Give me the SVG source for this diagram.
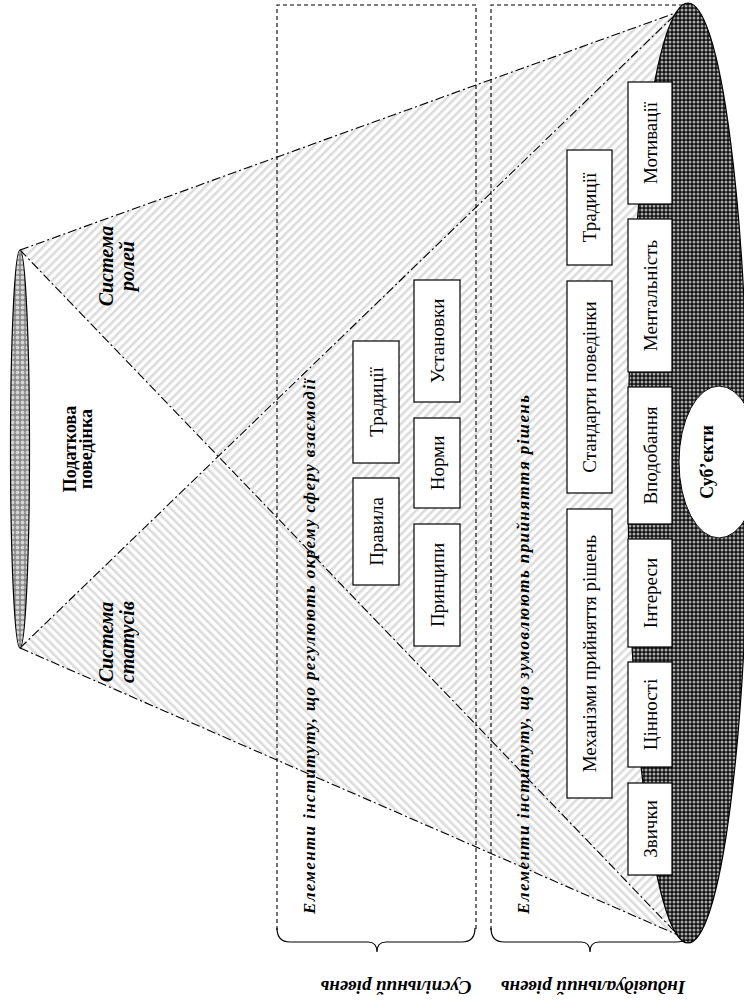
<svg xmlns="http://www.w3.org/2000/svg" width="744" height="1002" viewBox="0 0 744 1002">
<style>
.box{fill:#fff;stroke:#000;stroke-width:1.2}
.bt{font-family:"Liberation Serif","Times New Roman",serif;font-size:19px;text-anchor:middle;fill:#000}
.lab{font-family:"Liberation Serif","Times New Roman",serif;font-size:18px;font-weight:bold;font-style:italic;fill:#000}
.up{font-style:normal}
.big{font-size:20px}
.lvl{font-size:19px}
.ttl{font-size:17px}
.dd{fill:none;stroke:#000;stroke-width:1.1;stroke-dasharray:9 3 2 3}
.dash{fill:none;stroke:#000;stroke-width:1.1;stroke-dasharray:4 3}
.brace{fill:none;stroke:#000;stroke-width:1.2}
</style>
<defs>
<pattern id="hatchR" patternUnits="userSpaceOnUse" width="6" height="6" patternTransform="rotate(45)">
<rect width="6" height="6" fill="#fff"/>
<rect width="2.6" height="6" fill="#dcdcdc"/>
</pattern>
<pattern id="hatchS" patternUnits="userSpaceOnUse" width="6" height="6" patternTransform="rotate(-45)">
<rect width="6" height="6" fill="#fff"/>
<rect width="2.6" height="6" fill="#dcdcdc"/>
</pattern>
<pattern id="dots" patternUnits="userSpaceOnUse" width="4" height="4">
<rect width="4" height="4" fill="#111"/>
<circle cx="2" cy="2" r="1.5" fill="#a8a8a8"/>
</pattern>
<pattern id="dotsL" patternUnits="userSpaceOnUse" width="5" height="5">
<rect width="5" height="5" fill="#8a8a8a"/>
<circle cx="2.5" cy="2.5" r="1.9" fill="#d4d4d4"/>
</pattern>
</defs>

<g id="regions">
<polygon points="20,648 678,12 678,935" fill="url(#hatchS)"/>
<polygon points="20,250 678,12 678,935" fill="url(#hatchR)"/>
<polygon points="20,250 20,648 219,457" fill="#fff"/>
</g>

<g id="levels">
<path class="dash" d="M277,930 V5 H476 V930"/>
<path class="dash" d="M491,930 V5 H688"/>
<path class="brace" d="M277,928 Q277,942 290,942 H368 Q377,942 377,952 Q377,942 386,942 H462 Q475,942 475,928"/>
<path class="brace" d="M491,928 Q491,942 504,942 H581 Q590,942 590,952 Q590,942 599,942 H676 Q684,942 687,938"/>
</g>

<g id="subjects">
<ellipse cx="688" cy="473" rx="60" ry="470" fill="url(#dots)" stroke="#000" stroke-width="1.2"/>
<ellipse cx="719" cy="462" rx="40" ry="76" fill="#fff" stroke="#000" stroke-width="1"/>
<text class="lab up" text-anchor="middle" transform="translate(713,462) rotate(-90)">Суб’єкти</text>
</g>

<g id="connectors">
<line class="dd" x1="20" y1="250" x2="678" y2="12"/>
<line class="dd" x1="20" y1="250" x2="678" y2="935"/>
<line class="dd" x1="20" y1="648" x2="678" y2="12"/>
<line class="dd" x1="20" y1="648" x2="678" y2="935"/>
</g>

<g id="behaviour">
<ellipse cx="20" cy="449" rx="9.5" ry="199" fill="url(#dotsL)" stroke="#000" stroke-width="1.2"/>
<text class="lab up" text-anchor="middle" transform="translate(76,449) rotate(-90)">Податкова</text>
<text class="lab up" text-anchor="middle" transform="translate(92,449) rotate(-90)">поведінка</text>
</g>

<g id="roles">
<text class="lab big" text-anchor="middle" transform="translate(113,266) rotate(-90)">Система</text>
<text class="lab big" text-anchor="middle" transform="translate(134,266) rotate(-90)">ролей</text>
</g>
<g id="statuses">
<text class="lab big" text-anchor="middle" transform="translate(113,642) rotate(-90)">Система</text>
<text class="lab big" text-anchor="middle" transform="translate(134,642) rotate(-90)">статусів</text>
</g>

<g id="social-title">
<text class="lab ttl" textLength="535" lengthAdjust="spacing" transform="translate(315,914) rotate(-90)">Елементи інституту, що регулюють окрему сферу взаємодії</text>
</g>
<g id="individual-title">
<text class="lab ttl" textLength="519" lengthAdjust="spacing" transform="translate(529,914) rotate(-90)">Елементи інституту, що зумовлюють прийняття рішень</text>
</g>

<g id="social-boxes">
<g id="b-tradytsii1"><rect class="box" x="353" y="341" width="46" height="122"/><text class="bt" transform="translate(382.5,402) rotate(-90)">Традиції</text></g>
<g id="b-pravyla"><rect class="box" x="353" y="478" width="46" height="107"/><text class="bt" transform="translate(382.5,531.5) rotate(-90)">Правила</text></g>
<g id="b-ustanovky"><rect class="box" x="414" y="280" width="46" height="122"/><text class="bt" transform="translate(443.5,341) rotate(-90)">Установки</text></g>
<g id="b-normy"><rect class="box" x="414" y="418" width="46" height="90"/><text class="bt" transform="translate(443.5,463) rotate(-90)">Норми</text></g>
<g id="b-pryntsypy"><rect class="box" x="414" y="524" width="46" height="122"/><text class="bt" transform="translate(443.5,585) rotate(-90)">Принципи</text></g>
</g>

<g id="individual-boxes">
<g id="b-tradytsii2"><rect class="box" x="567" y="150" width="45" height="115"/><text class="bt" transform="translate(596,207.5) rotate(-90)">Традиції</text></g>
<g id="b-standarty"><rect class="box" x="567" y="281" width="45" height="212"/><text class="bt" transform="translate(596,387) rotate(-90)">Стандарти поведінки</text></g>
<g id="b-mekhanizmy"><rect class="box" x="567" y="509" width="45" height="289"/><text class="bt" transform="translate(596,653.5) rotate(-90)">Механізми прийняття рішень</text></g>
<g id="b-motyvatsii"><rect class="box" x="628" y="82" width="44" height="122"/><text class="bt" transform="translate(656.5,143) rotate(-90)">Мотивації</text></g>
<g id="b-mentalnist"><rect class="box" x="628" y="219" width="44" height="153"/><text class="bt" transform="translate(656.5,295.5) rotate(-90)">Ментальність</text></g>
<g id="b-vpodobannia"><rect class="box" x="628" y="387" width="44" height="137"/><text class="bt" transform="translate(656.5,455.5) rotate(-90)">Вподобання</text></g>
<g id="b-interesy"><rect class="box" x="628" y="539" width="44" height="108"/><text class="bt" transform="translate(656.5,593) rotate(-90)">Інтереси</text></g>
<g id="b-tsinnosti"><rect class="box" x="628" y="662" width="44" height="105"/><text class="bt" transform="translate(656.5,714.5) rotate(-90)">Цінності</text></g>
<g id="b-zvychky"><rect class="box" x="628" y="783" width="44" height="92"/><text class="bt" transform="translate(656.5,829) rotate(-90)">Звички</text></g>
</g>

<g id="level-labels">
<text class="lab lvl" text-anchor="middle" transform="translate(396,981) rotate(180)">Суспільний рівень</text>
<text class="lab lvl" text-anchor="middle" transform="translate(593,981) rotate(180)">Індивідуальний рівень</text>
</g>
</svg>
